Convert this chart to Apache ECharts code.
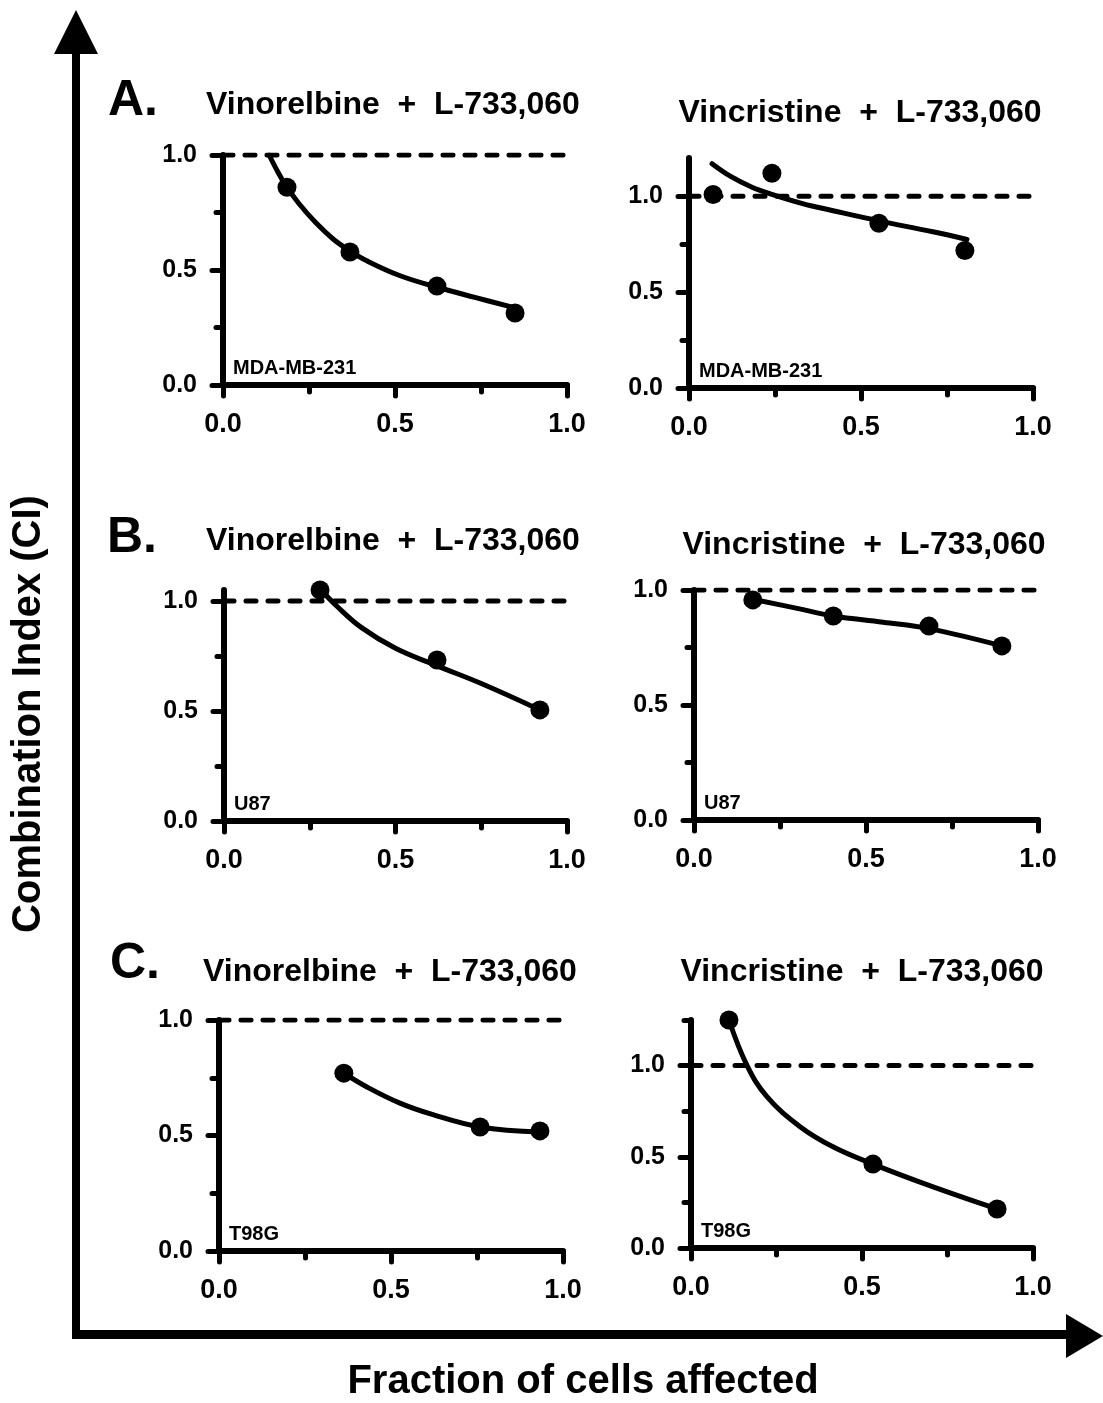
<!doctype html>
<html lang="en">
<head>
<meta charset="UTF-8">
<title>Combination Index vs Fraction affected</title>
<script src="https://cdn.jsdelivr.net/npm/echarts@6.0.0/dist/echarts.min.js"></script>
<style>
  html, body { margin: 0; padding: 0; background: #fff; }
  #main { width: 1103px; height: 1403px; }
</style>
</head>
<body>
<div id="main"></div>
<script>
// tick values
var xLabels = [0, 0.5, 1];
var yLabels = [0, 0.5, 1];

// A. MDA-MB-231
var faA1 = [0.186, 0.369, 0.622, 0.849];
var ciA1 = [0.86, 0.578, 0.43, 0.313];
var fitXA1 = [0.134, 0.16, 0.185, 0.22, 0.27, 0.32, 0.369, 0.418, 0.515, 0.623, 0.735, 0.849];
var fitYA1 = [1.0, 0.925, 0.862, 0.79, 0.705, 0.635, 0.583, 0.54, 0.475, 0.425, 0.38, 0.335];

var faA2 = [0.07, 0.241, 0.552, 0.802];
var ciA2 = [1.01, 1.12, 0.86, 0.717];
var fitXA2 = [0.067, 0.12, 0.18, 0.241, 0.33, 0.419, 0.552, 0.709, 0.808];
var fitYA2 = [1.17, 1.105, 1.05, 1.01, 0.962, 0.925, 0.872, 0.815, 0.775];

// B. U87
var faB1 = [0.28, 0.621, 0.921];
var ciB1 = [1.05, 0.732, 0.505];
var fitXB1 = [0.283, 0.33, 0.4, 0.5, 0.622, 0.75, 0.921];
var fitYB1 = [1.05, 0.975, 0.88, 0.785, 0.705, 0.625, 0.505];

var faB2 = [0.171, 0.405, 0.683, 0.895];
var ciB2 = [0.957, 0.887, 0.843, 0.757];
var fitXB2 = [0.171, 0.3, 0.405, 0.55, 0.683, 0.895];
var fitYB2 = [0.96, 0.92, 0.887, 0.86, 0.832, 0.757];

// C. T98G
var faC1 = [0.363, 0.759, 0.933];
var ciC1 = [0.77, 0.537, 0.52];
var fitXC1 = [0.363, 0.43, 0.526, 0.622, 0.759, 0.933];
var fitYC1 = [0.77, 0.71, 0.64, 0.59, 0.537, 0.515];

var faC2 = [0.111, 0.532, 0.895];
var ciC2 = [1.25, 0.46, 0.214];
var fitXC2 = [0.111, 0.164, 0.222, 0.319, 0.415, 0.532, 0.708, 0.895];
var fitYC2 = [1.25, 1.0, 0.83, 0.665, 0.555, 0.46, 0.335, 0.214];

var titles = ['Vinorelbine  +  L-733,060', 'Vincristine  +  L-733,060'];
var cells = ['MDA-MB-231', 'MDA-MB-231', 'U87', 'U87', 'T98G', 'T98G'];

var panels = [
  { fa: faA1, ci: ciA1, fx: fitXA1, fy: fitYA1, ymax: 1.0, minor: [0.25, 0.75] },
  { fa: faA2, ci: ciA2, fx: fitXA2, fy: fitYA2, ymax: 1.2, minor: [0.25, 0.75] },
  { fa: faB1, ci: ciB1, fx: fitXB1, fy: fitYB1, ymax: 1.05, minor: [0.25, 0.75] },
  { fa: faB2, ci: ciB2, fx: fitXB2, fy: fitYB2, ymax: 1.0, minor: [0.25, 0.75] },
  { fa: faC1, ci: ciC1, fx: fitXC1, fy: fitYC1, ymax: 1.0, minor: [0.25, 0.75] },
  { fa: faC2, ci: ciC2, fx: fitXC2, fy: fitYC2, ymax: 1.25, minor: [0.25, 0.75, 1.25] }
];

// layout: [left, top, width, height] of each plot box, title centre
var boxes = [
  [223, 155, 344, 230], [689, 158, 344, 230],
  [224, 590, 343, 231], [694, 590, 344, 230],
  [219, 1020, 344, 231], [691, 1020, 342, 228]
];
var titlePos = [[393, 105], [860, 113], [393, 541], [864, 545], [390, 972], [862, 972]];
var letters = [['A.', 108, 101], ['B.', 107, 538], ['C.', 110, 964]];

var FONT = '"Liberation Sans", Arial, Helvetica, sans-serif';
var BLACK = '#000';

function zip(a, b) {
  return a.map(function (v, i) { return [v, b[i]]; });
}

var grid = [], xAxis = [], yAxis = [], series = [], graphic = [];

panels.forEach(function (p, i) {
  var b = boxes[i];
  grid.push({ left: b[0], top: b[1], width: b[2], height: b[3], outerBoundsMode: 'none' });

  xAxis.push({
    type: 'value', gridIndex: i, min: 0, max: 1, interval: 0.5,
    axisLine: { show: true, lineStyle: { color: BLACK, width: 6, opacity: 1 } },
    axisTick: { show: true, length: 11, customValues: xLabels, lineStyle: { color: BLACK, width: 5, cap: 'round' } },
    minorTick: { show: true, splitNumber: 2, length: 7, lineStyle: { color: BLACK, width: 5, cap: 'round' } },
    axisLabel: {
      margin: 26, color: BLACK, fontSize: 27, fontWeight: 'bold', fontFamily: FONT,
      customValues: xLabels,
      formatter: function (v) { return v.toFixed(1); }
    },
    splitLine: { show: false }
  });

  // main y axis with labelled ticks
  yAxis.push({
    type: 'value', gridIndex: i, min: 0, max: p.ymax, position: 'left',
    axisLine: { show: true, lineStyle: { color: BLACK, width: 6, opacity: 1 } },
    axisTick: { show: true, length: 11, customValues: yLabels, lineStyle: { color: BLACK, width: 5, cap: 'round' } },
    axisLabel: {
      margin: 26, color: BLACK, fontSize: 25, fontWeight: 'bold', fontFamily: FONT,
      customValues: yLabels,
      formatter: function (v) { return v.toFixed(1); }
    },
    splitLine: { show: false }
  });
  // short minor ticks
  yAxis.push({
    type: 'value', gridIndex: i, min: 0, max: p.ymax, position: 'left', offset: 0,
    axisLine: { show: false },
    axisTick: { show: true, length: 7, customValues: p.minor, lineStyle: { color: BLACK, width: 5, cap: 'round' } },
    axisLabel: { show: false },
    splitLine: { show: false }
  });

  var yIdx = i * 2;
  series.push({
    type: 'line', xAxisIndex: i, yAxisIndex: yIdx, data: [[0, 1], [1, 1]],
    symbol: 'none', silent: true,
    lineStyle: { color: BLACK, width: 5, type: [10, 12], cap: 'round', opacity: 1 }
  });
  series.push({
    type: 'line', xAxisIndex: i, yAxisIndex: yIdx, data: zip(p.fx, p.fy),
    symbol: 'none', smooth: 0.4, silent: true,
    lineStyle: { color: BLACK, width: 5, opacity: 1, cap: 'round' }
  });
  series.push({
    type: 'scatter', xAxisIndex: i, yAxisIndex: yIdx, data: zip(p.fa, p.ci),
    symbol: 'circle', symbolSize: 19, clip: false,
    itemStyle: { color: BLACK, opacity: 1 }
  });

  graphic.push({
    type: 'text', left: b[0] + 10, top: b[1] + b[3] - 27,
    style: { text: cells[i], fill: BLACK, font: 'bold 20px ' + FONT }
  });
  graphic.push({
    type: 'text', x: titlePos[i][0], y: titlePos[i][1],
    style: { text: titles[i % 2], fill: BLACK, font: 'bold 32px ' + FONT, textAlign: 'center', textVerticalAlign: 'middle' }
  });
});

letters.forEach(function (l) {
  graphic.push({
    type: 'text', x: l[1], y: l[2],
    style: { text: l[0], fill: BLACK, font: 'bold 50px ' + FONT, textAlign: 'left', textVerticalAlign: 'middle' }
  });
});

// outer axes with arrow heads
graphic.push(
  { type: 'line', shape: { x1: 76, y1: 50, x2: 76, y2: 1339 }, style: { stroke: BLACK, lineWidth: 8 } },
  { type: 'polygon', shape: { points: [[76, 10], [54, 54], [98, 54]] }, style: { fill: BLACK } },
  { type: 'line', shape: { x1: 72, y1: 1334.5, x2: 1070, y2: 1334.5 }, style: { stroke: BLACK, lineWidth: 9 } },
  { type: 'polygon', shape: { points: [[1103, 1336], [1066, 1314], [1066, 1358]] }, style: { fill: BLACK } },
  {
    type: 'text', x: 583, y: 1382,
    style: { text: 'Fraction of cells affected', fill: BLACK, font: 'bold 40px ' + FONT, textAlign: 'center', textVerticalAlign: 'middle' }
  },
  {
    type: 'text', x: 29, y: 714, rotation: Math.PI / 2,
    style: { text: 'Combination Index (CI)', fill: BLACK, font: 'bold 40px ' + FONT, textAlign: 'center', textVerticalAlign: 'middle' }
  }
);

var myChart = echarts.init(document.getElementById('main'));
myChart.setOption({
  animation: false,
  backgroundColor: '#fff',
  grid: grid,
  xAxis: xAxis,
  yAxis: yAxis,
  series: series,
  graphic: graphic
});
</script>
</body>
</html>
